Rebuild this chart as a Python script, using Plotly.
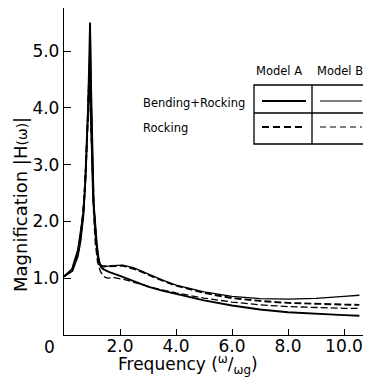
import plotly.graph_objects as go

# ---------------- data ----------------
# Model A, Bending + Rocking (thick solid)
xa_br = [0, 0.29, 0.5, 0.6, 0.68, 0.75, 0.82, 0.86, 0.9, 0.93, 0.96, 1.0, 1.04, 1.1, 1.17, 1.25, 1.32, 1.4, 1.6, 2.0, 2.5, 3.0, 3.5, 4.0, 5.0, 6.0, 7.0, 8.0, 9.0, 10.0, 10.55]
ya_br = [1.03, 1.16, 1.5, 1.86, 2.1, 2.6, 3.4, 4.0, 4.8, 5.5, 4.2, 3.0, 2.4, 2.05, 1.6, 1.28, 1.2, 1.16, 1.11, 1.04, 0.94, 0.85, 0.78, 0.72, 0.61, 0.52, 0.45, 0.4, 0.37, 0.35, 0.34]

# Model B, Bending + Rocking (thin solid)
xb_br = [0, 0.3, 0.5, 0.6, 0.7, 0.78, 0.85, 0.9, 0.94, 0.98, 1.02, 1.07, 1.15, 1.22, 1.3, 1.4, 1.7, 2.1, 2.5, 3.0, 3.5, 4.0, 5.0, 6.0, 7.0, 8.0, 9.0, 10.0, 10.55]
yb_br = [1.03, 1.12, 1.38, 1.65, 2.1, 2.8, 3.8, 4.7, 5.35, 4.3, 3.1, 2.3, 1.7, 1.38, 1.24, 1.2, 1.22, 1.23, 1.18, 1.07, 0.97, 0.88, 0.76, 0.68, 0.64, 0.63, 0.645, 0.68, 0.7]

# Model A, Rocking (thick dashed)
xa_r = [0, 0.3, 0.5, 0.6, 0.7, 0.78, 0.85, 0.9, 0.95, 1.0, 1.06, 1.13, 1.2, 1.28, 1.35, 1.6, 2.1, 2.6, 3.0, 3.5, 4.0, 5.0, 6.0, 7.0, 8.0, 9.0, 10.0, 10.55]
ya_r = [1.03, 1.14, 1.45, 1.75, 2.2, 2.9, 3.8, 4.6, 4.0, 3.0, 2.3, 1.75, 1.4, 1.25, 1.21, 1.21, 1.22, 1.15, 1.06, 0.96, 0.87, 0.74, 0.65, 0.6, 0.565, 0.545, 0.535, 0.53]

# Model B, Rocking (thin dashed)
xb_r = [0, 0.3, 0.5, 0.6, 0.7, 0.78, 0.85, 0.9, 0.95, 1.0, 1.06, 1.12, 1.2, 1.3, 1.42, 1.55, 1.8, 2.2, 2.7, 3.2, 4.0, 5.0, 6.0, 7.0, 8.0, 9.0, 10.0, 10.55]
yb_r = [1.03, 1.15, 1.48, 1.8, 2.3, 3.0, 3.9, 4.4, 3.8, 2.9, 2.1, 1.6, 1.28, 1.12, 1.03, 1.0, 1.01, 0.97, 0.9, 0.83, 0.74, 0.65, 0.58, 0.53, 0.5, 0.48, 0.47, 0.47]

x_ticks = [2, 4, 6, 8, 10]
x_ticklabels = ["2.0", "4.0", "6.0", "8.0", "10.0"]
y_ticks = [1, 2, 3, 4, 5]
y_ticklabels = ["1.0", "2.0", "3.0", "4.0", "5.0"]

FONT = "DejaVu Sans"
OFF = 8  # page body margin
W, H = 371 - OFF, 386 - OFF
X0S, Y0S = 64, 335  # screen position of the axes origin
ML, MT = X0S - OFF, 0
MB = H - (Y0S - OFF)
MR = 0
PW = W - ML - MR
PH = H - MT - MB


def px(xs):
    return (xs - X0S) / PW


def py(ys):
    return (Y0S - ys) / PH


fig = go.Figure()
fig.add_trace(go.Scatter(x=xa_r, y=ya_r, mode="lines", line=dict(color="black", width=1.9, dash="7px,3px")))
fig.add_trace(go.Scatter(x=xb_r, y=yb_r, mode="lines", line=dict(color="black", width=1.3, dash="7px,3px")))
fig.add_trace(go.Scatter(x=xb_br, y=yb_br, mode="lines", line=dict(color="black", width=1.3)))
fig.add_trace(go.Scatter(x=xa_br, y=ya_br, mode="lines", line=dict(color="black", width=1.9)))

shapes = []
# legend table
bx0, bx1, by0, by1 = 254, 370, 85, 144
shapes.append(dict(type="rect", xref="paper", yref="paper", x0=px(bx0), x1=px(bx1), y0=py(by1), y1=py(by0),
                   line=dict(color="black", width=1.3)))
shapes.append(dict(type="line", xref="paper", yref="paper", x0=px(bx0), x1=px(bx1), y0=py(113), y1=py(113),
                   line=dict(color="black", width=1.3)))
shapes.append(dict(type="line", xref="paper", yref="paper", x0=px(312), x1=px(312), y0=py(by1), y1=py(by0),
                   line=dict(color="black", width=1.3)))
shapes.append(dict(type="line", xref="paper", yref="paper", x0=px(262), x1=px(306), y0=py(101), y1=py(101),
                   line=dict(color="black", width=2)))
shapes.append(dict(type="line", xref="paper", yref="paper", x0=px(320), x1=px(362), y0=py(101), y1=py(101),
                   line=dict(color="black", width=1.1)))
shapes.append(dict(type="line", xref="paper", yref="paper", x0=px(262), x1=px(306), y0=py(127), y1=py(127),
                   line=dict(color="black", width=2, dash="7px,4px")))
shapes.append(dict(type="line", xref="paper", yref="paper", x0=px(320), x1=px(362), y0=py(127), y1=py(127),
                   line=dict(color="black", width=1.1, dash="6px,4px")))

annotations = [
    dict(text="Model A", x=px(279), y=py(71), xref="paper", yref="paper", showarrow=False,
         font=dict(family=FONT, size=11.5, color="black"), xanchor="center", yanchor="middle"),
    dict(text="Model B", x=px(340), y=py(71), xref="paper", yref="paper", showarrow=False,
         font=dict(family=FONT, size=11.5, color="black"), xanchor="center", yanchor="middle"),
    dict(text="Bending+Rocking", x=px(141), y=py(103), xref="paper", yref="paper", showarrow=False,
         font=dict(family=FONT, size=11.5, color="black"), xanchor="left", yanchor="middle"),
    dict(text="Rocking", x=px(141), y=py(128), xref="paper", yref="paper", showarrow=False,
         font=dict(family=FONT, size=11.5, color="black"), xanchor="left", yanchor="middle"),
    dict(text="0", x=px(49), y=py(347), xref="paper", yref="paper", showarrow=False,
         font=dict(family=FONT, size=17, color="black"), xanchor="center", yanchor="middle"),
    dict(text="Frequency (<sup>ω</sup>/<sub>ωg</sub>)", x=px(188), y=py(365), xref="paper", yref="paper",
         showarrow=False, font=dict(family=FONT, size=17, color="black"), xanchor="center", yanchor="middle"),
    dict(text="Magnification |H<span style='font-size:14px'>(ω)</span>|", x=px(20), y=py(205), xref="paper",
         yref="paper", showarrow=False, textangle=-90,
         font=dict(family=FONT, size=18, color="black"), xanchor="center", yanchor="middle"),
]

fig.update_layout(
    width=W, height=H,
    margin=dict(l=ML, r=MR, t=MT, b=MB),
    paper_bgcolor="white", plot_bgcolor="white",
    showlegend=False,
    shapes=shapes,
    annotations=annotations,
    font=dict(family=FONT, color="black"),
)
fig.update_xaxes(range=[0, PW / 28.0], showgrid=False, zeroline=False, showline=True, linecolor="black",
                 linewidth=1.3, ticks="inside", ticklen=6, tickwidth=1.2, tickcolor="black",
                 ticklabelstandoff=-5,
                 tickvals=x_ticks, ticktext=x_ticklabels, tickfont=dict(family=FONT, size=17, color="black"))
fig.update_yaxes(range=[0, PH / 56.8], showgrid=False, zeroline=False, showline=True, linecolor="black",
                 linewidth=1.3, ticks="inside", ticklen=7, tickwidth=1.2, tickcolor="black",
                 tickvals=y_ticks, ticktext=y_ticklabels, tickfont=dict(family=FONT, size=17, color="black"))

fig.write_html("out.html")
